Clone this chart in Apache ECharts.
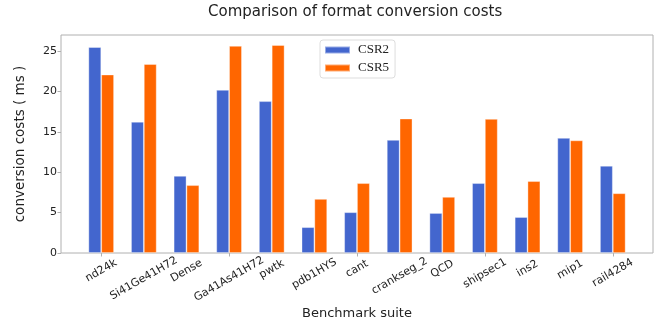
<!DOCTYPE html>
<html>
<head>
<meta charset="utf-8">
<script src="https://cdn.jsdelivr.net/npm/echarts@6/dist/echarts.min.js"></script>
<style>
html,body{margin:0;padding:0;background:#fff;}
#chart{width:659px;height:323px;}
</style>
</head>
<body>
<div id="chart"></div>
<script>
var categories = ['nd24k','Si41Ge41H72','Dense','Ga41As41H72','pwtk','pdb1HYS','cant','crankseg_2','QCD','shipsec1','ins2','mip1','rail4284'];
var csr2 = [25.5, 16.25, 9.55, 20.2, 18.8, 3.2, 5.05, 14.0, 4.95, 8.65, 4.45, 14.25, 10.8];
var csr5 = [22.1, 23.4, 8.4, 25.65, 25.75, 6.7, 8.65, 16.65, 6.95, 16.6, 8.9, 13.95, 7.4];
var seriesNames = ['CSR2','CSR5'];
var yTicks = [0, 5, 10, 15, 20, 25];

var font = 'DejaVu Sans';
var labelSize = 11;
var ctx = document.createElement('canvas').getContext('2d');
ctx.font = labelSize + 'px "' + font + '"';

var chart = echarts.init(document.getElementById('chart'), null, {renderer:'canvas'});
chart.setOption({
  animation: false,
  backgroundColor: '#fff',
  title: {
    text: 'Comparison of format conversion costs',
    left: 208, top: 5, padding: 0,
    textStyle: {fontFamily: font, fontSize: 15, fontWeight: 'normal', color: '#222'}
  },
  legend: {
    orient: 'vertical',
    left: 320, top: 40,
    data: seriesNames,
    itemWidth: 25, itemHeight: 7, itemGap: 4,
    padding: [3, 6, 3, 4],
    borderColor: '#dddddd', borderWidth: 1, borderRadius: 3,
    backgroundColor: '#fff',
    icon: 'rect',
    textStyle: {fontFamily: 'Liberation Serif', fontSize: 13, color: '#222', lineHeight: 14, padding: [0,0,0,3]}
  },
  grid: [
    {left: 61, right: 6, top: 35, bottom: 70, show: true, borderColor: '#b0b0b0', borderWidth: 1, backgroundColor: 'transparent', containLabel: false, outerBoundsMode: 'none'},
    {left: 79.9, right: 24.9, top: 35, bottom: 70, containLabel: false, outerBoundsMode: 'none'}
  ],
  xAxis: [
    {gridIndex: 0, type: 'value', show: false, min: 0, max: 1},
    {gridIndex: 1, type: 'category', data: categories,
     axisLine: {show: false},
     axisTick: {show: true, alignWithLabel: true, length: 3.5, lineStyle: {color: '#b0b0b0'}},
     axisLabel: {show: false},
     name: 'Benchmark suite', nameLocation: 'middle', nameGap: 54, nameMoveOverlap: false,
     nameTextStyle: {fontFamily: font, fontSize: 13, color: '#222'}
    }
  ],
  yAxis: [
    {gridIndex: 0, type: 'value', min: 0, max: 27, interval: 5,
     axisLine: {show: false},
     axisTick: {show: true, length: 3.5, lineStyle: {color: '#b0b0b0'}},
     splitLine: {show: false},
     axisLabel: {fontFamily: font, fontSize: 11, color: '#222', margin: 4, showMaxLabel: false,
       formatter: function(v){ return yTicks.indexOf(v) >= 0 ? String(v) : ''; }},
     name: 'conversion costs ( ms )', nameLocation: 'middle', nameGap: 34, nameMoveOverlap: false,
     nameTextStyle: {fontFamily: font, fontSize: 13.5, color: '#222'}
    },
    {gridIndex: 1, type: 'value', min: 0, max: 27, show: false}
  ],
  series: [
    {name: seriesNames[0], type: 'bar', xAxisIndex: 1, yAxisIndex: 1, data: csr2,
     barWidth: 12.8, barGap: '0%',
     itemStyle: {color: '#4366CE', borderColor: 'rgba(255,255,255,0.45)', borderWidth: 0.8}},
    {name: seriesNames[1], type: 'bar', xAxisIndex: 1, yAxisIndex: 1, data: csr5,
     barWidth: 12.8, barGap: '0%',
     itemStyle: {color: '#FF6600', borderColor: 'rgba(255,255,255,0.45)', borderWidth: 0.8}},
    {type: 'custom', xAxisIndex: 1, yAxisIndex: 1, silent: true, clip: false, z: 10,
     data: categories.map(function (c) { return [c, 0]; }),
     renderItem: function (params, api) {
       var name = categories[params.dataIndex];
       var p = api.coord([api.value(0), 0]);
       var w = ctx.measureText(name).width;
       var d = 11.4 + 0.186 * w;
       return {
         type: 'text', x: p[0], y: p[1] + d, rotation: Math.PI / 6,
         style: {text: name, align: 'center', verticalAlign: 'middle',
                 font: labelSize + 'px "' + font + '"', fill: '#222'}
       };
     }
    }
  ]
});
</script>
</body>
</html>
